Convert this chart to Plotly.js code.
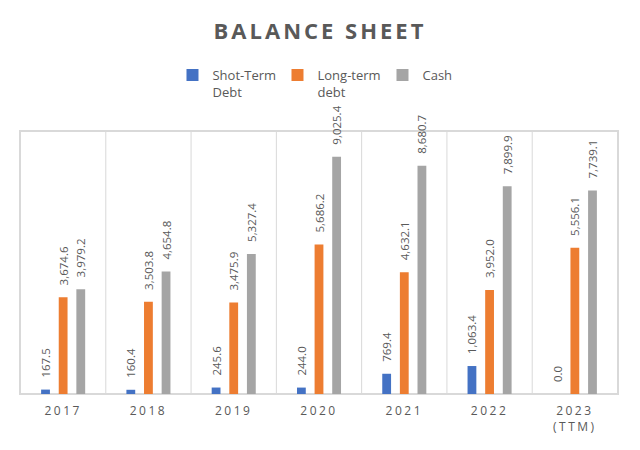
<!DOCTYPE html>
<html>
<head>
<meta charset="utf-8">
<script src="https://cdn.plot.ly/plotly-3.0.1.min.js"></script>
<style>
html,body{margin:0;padding:0;background:#fff;}
#chart{width:640px;height:450px;}
.gtitle{letter-spacing:3px;}
.xtick text{letter-spacing:2.5px;}
</style>
</head>
<body>
<div id="chart"></div>
<script>
const categories = ["2017","2018","2019","2020","2021","2022","2023<br>(TTM)"];
const shortTermDebt = [167.5,160.4,245.6,244.0,769.4,1063.4,0.0];
const longTermDebt = [3674.6,3503.8,3475.9,5686.2,4632.1,3952.0,5556.1];
const cash = [3979.2,4654.8,5327.4,9025.4,8680.7,7899.9,7739.1];
const seriesNames = ["Shot-Term<br>Debt","Long-term<br>debt","Cash"];
const colors = ["#4472C4","#ED7D31","#A5A5A5"];

const labelFont = {family:"Open Sans, sans-serif", size:11.5, color:"#595959"};
function mk(y, i){
  return {
    type:"bar", x:categories, y:y, name:seriesNames[i],
    marker:{color:colors[i]},
    texttemplate:"\u00a0\u00a0\u00a0%{y:,.1f}", textposition:"outside",
    textangle:-90, textfont:labelFont, constraintext:"none", cliponaxis:false,
    hoverinfo:"x+y"
  };
}
const data = [mk(shortTermDebt,0), mk(longTermDebt,1), mk(cash,2)];

const shapes = [];
for (let i=0;i<=categories.length;i++){
  shapes.push({type:"line", xref:"x", yref:"paper", x0:i-0.5, x1:i-0.5, y0:0, y1:1,
    line:{color:"#D9D9D9", width:1}, layer:"below"});
}
shapes.push({type:"rect", xref:"paper", yref:"paper", x0:0, x1:1, y0:0, y1:1,
  line:{color:"#D9D9D9", width:2}, layer:"below"});

const layout = {
  width:640, height:450,
  margin:{l:20, r:22, t:131, b:56},
  paper_bgcolor:"#fff", plot_bgcolor:"#fff",
  title:{text:"<b>BALANCE SHEET</b>", x:0.5, xanchor:"center", y:0.93, yanchor:"middle",
    font:{family:"Open Sans, sans-serif", size:22, color:"#595959"}},
  showlegend:true,
  legend:{orientation:"h", x:0.255, xanchor:"left", y:1.27, yanchor:"top",
    bgcolor:"rgba(0,0,0,0)",
    font:{family:"Open Sans, sans-serif", size:13, color:"#595959"},
    traceorder:"normal", itemwidth:30, entrywidth:60, valign:"top"},
  barmode:"group", bargap:0.38, bargroupgap:0.5,
  xaxis:{type:"category", showgrid:false, showline:true, linecolor:"#D9D9D9", linewidth:1,
    ticks:"", ticklabelstandoff:6,
    tickfont:{family:"Open Sans, sans-serif", size:12, color:"#595959"}, fixedrange:true},
  yaxis:{range:[0,10000], showgrid:false, zeroline:false, showticklabels:false, fixedrange:true},
  shapes:shapes
};
Plotly.newPlot("chart", data, layout, {displayModeBar:false, staticPlot:true});
</script>
</body>
</html>
